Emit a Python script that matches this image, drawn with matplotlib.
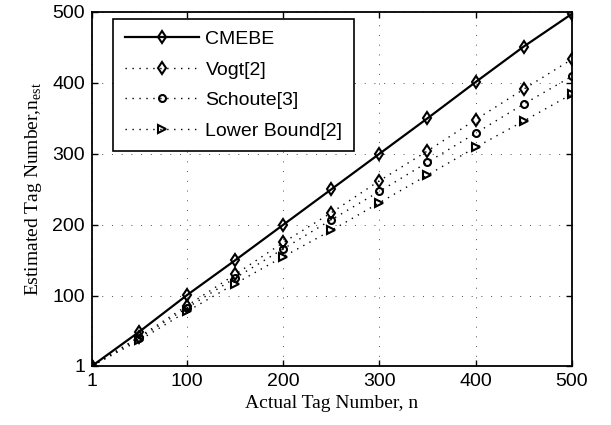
import numpy as np
import matplotlib.pyplot as plt

# Data
n_actual = [1, 50, 100, 150, 200, 250, 300, 350, 400, 450, 500]
cmebe = [1, 49, 101, 150, 200, 250, 300, 350, 401, 451, 497]
vogt = [1, 42, 86, 130, 175, 217, 262, 304, 348, 391, 433]
schoute = [1, 40, 83, 125, 166, 207, 247, 288, 329, 370, 409]
lower = [1, 37, 78, 117, 155, 192, 231, 270, 309, 346, 384]

xticks = [1, 100, 200, 300, 400, 500]
yticks = [1, 100, 200, 300, 400, 500]

plt.rcParams['font.family'] = ['Liberation Sans', 'DejaVu Sans']
plt.rcParams['mathtext.fontset'] = 'custom'
plt.rcParams['mathtext.rm'] = 'Liberation Serif'

fig = plt.figure(figsize=(6.11, 4.25), dpi=100)
ax = fig.add_axes([0.1506, 0.139, 0.785, 0.833])

mk = dict(markerfacecolor='none', markeredgecolor='black', markeredgewidth=1.5,
          color='black')
dots = (0, (1, 4))
ax.plot(n_actual, cmebe, '-', marker='d', markersize=6.5, linewidth=1.6,
        label='CMEBE', **mk)
ax.plot(n_actual, vogt, linestyle=dots, marker='d', markersize=6.5,
        linewidth=1.0, label='Vogt[2]', **mk)
ax.plot(n_actual, schoute, linestyle=dots, marker='o', markersize=5,
        linewidth=1.0, label='Schoute[3]', **mk)
ax.plot(n_actual, lower, linestyle=dots, marker='>', markersize=5.5,
        linewidth=1.0, label='Lower Bound[2]', **mk)

ax.set_xlim(1, 500)
ax.set_ylim(1, 500)
ax.set_xticks(xticks)
ax.set_yticks(yticks)
ax.tick_params(direction='in', top=True, right=True, labelsize=14, length=4,
               width=1, pad=5)
ax.grid(True, linestyle=(0, (1, 9)), color='black', linewidth=0.7, alpha=0.7)
for s in ax.spines.values():
    s.set_linewidth(1.3)

ax.set_xlabel('Actual Tag Number, n', family='Liberation Serif', fontsize=14,
              labelpad=4)
ax.set_ylabel(r'Estimated Tag Number,n$_{\mathrm{est}}$',
              family='Liberation Serif', fontsize=14, labelpad=6)

leg = ax.legend(loc='upper left', fontsize=14, fancybox=False,
                edgecolor='black', framealpha=1, borderpad=0.6,
                handlelength=3.8, handletextpad=0.35, labelspacing=0.66,
                borderaxespad=0, bbox_to_anchor=(0.044, 0.98))
leg.get_frame().set_linewidth(1.2)

fig.savefig('out.png', dpi=100)
